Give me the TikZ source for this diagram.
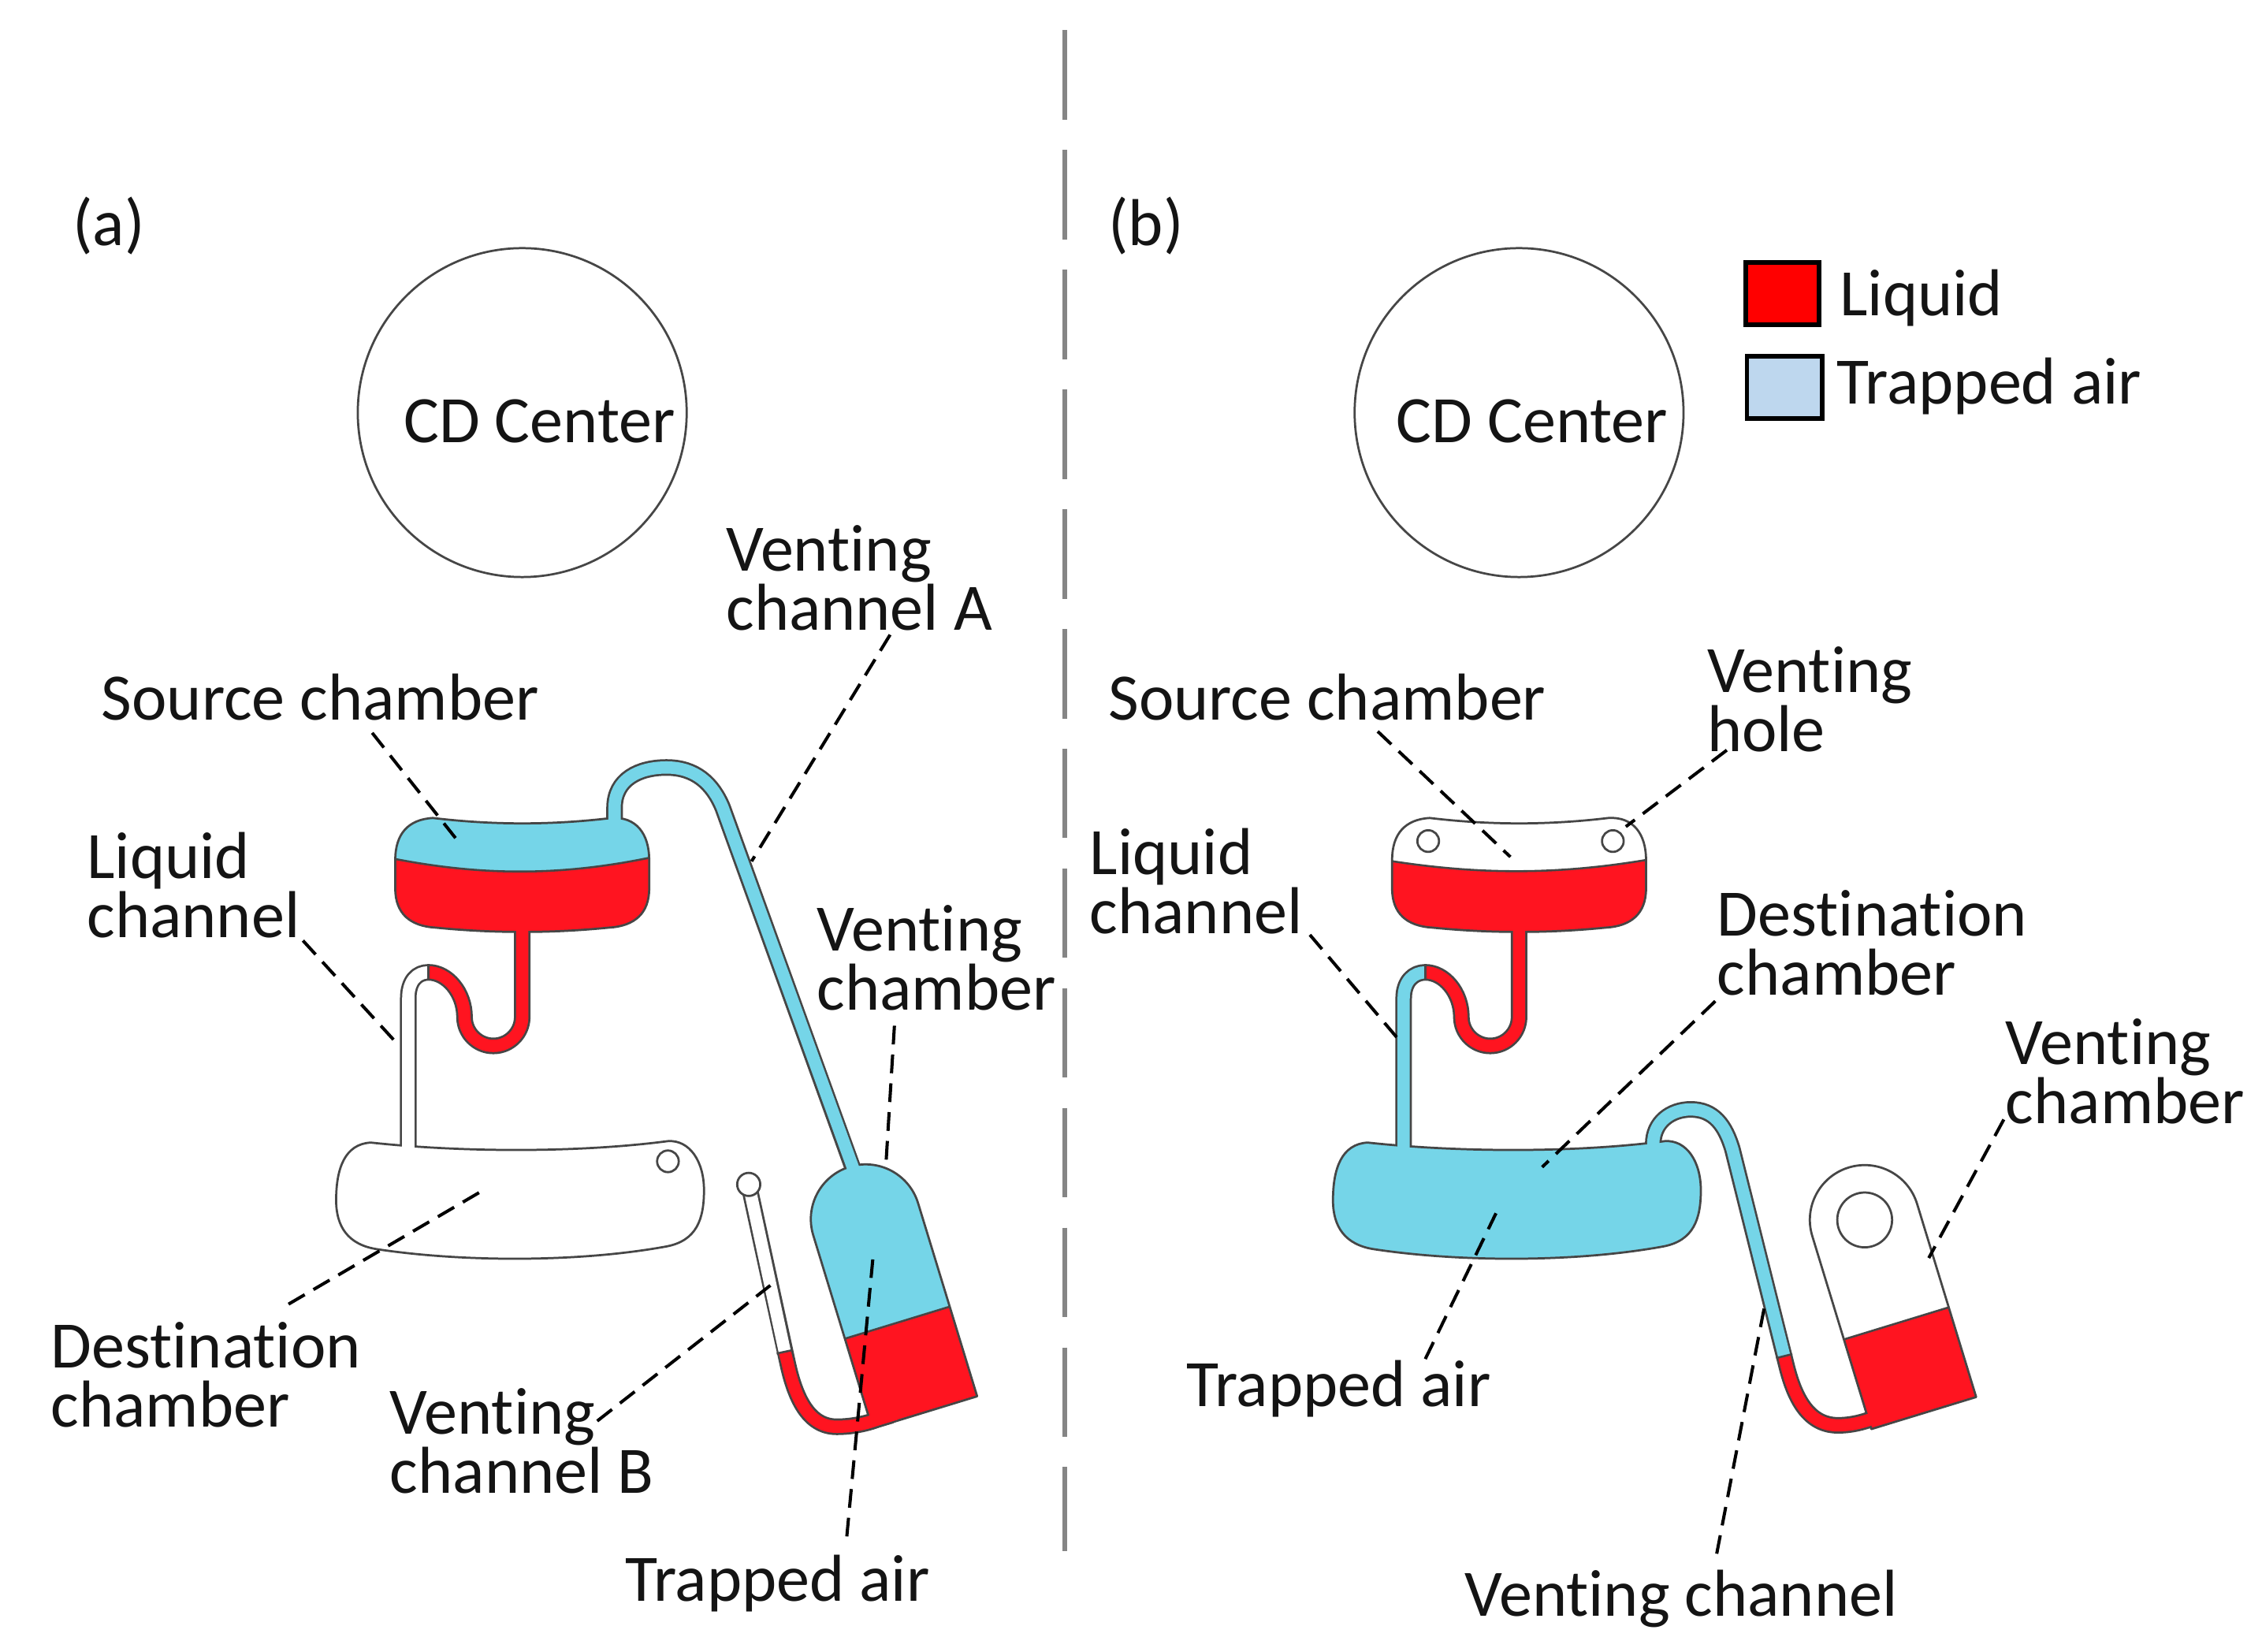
\documentclass[tikz,border=0pt]{standalone}
\usepackage{fontspec}
\setmainfont{Carlito}[Ligatures={NoCommon,NoRare}]
\definecolor{liq}{RGB}{255,20,32}
\definecolor{air}{RGB}{117,213,232}
\definecolor{outl}{RGB}{70,70,70}
\definecolor{legred}{RGB}{255,0,0}
\definecolor{legblue}{RGB}{190,215,238}
\definecolor{divgray}{RGB}{133,133,133}
\newcommand\lblfont{\fontsize{23}{20.5}\selectfont\setlength{\lineskiplimit}{-30pt}\relax}
\begin{document}
\begin{tikzpicture}[x=0.5pt,y=-0.5pt,
  lbl/.style={inner sep=0pt, anchor=base west, align=left, font=\lblfont, text=black!92},
  leader/.style={line width=1.1pt, dash pattern=on 6.5pt off 3.5pt},
  chamb/.style={draw=outl, line width=0.75pt, line join=round},
  chout/.style={draw=outl, line width=5.75pt, line join=round, line cap=butt},
  chin/.style={draw=#1, line width=4.25pt, line join=round, line cap=butt},
  sep/.style={draw=outl, line width=0.7pt},
  hole/.style={draw=outl, line width=0.75pt, fill=white},
  legbox/.style={draw=black, line width=1.5pt},
]
\useasboundingbox[fill=white] (0,0) rectangle (1568,1145);

% divider
\draw[divgray, line width=1.5pt, dash pattern=on 31pt off 10.5pt] (738,21) -- (738,1075);

% panel labels
\node[lbl] (pa) at (50,170) {(a)};
\node[lbl] (pb) at (768,170) {(b)};

% CD centers
\node[circle, draw=outl, line width=0.75pt, minimum size=114pt, inner sep=0pt] (cda) at (362,286) {};
\node[lbl, anchor=base] (cdat) at (374,307) {CD Center};
\node[circle, draw=outl, line width=0.75pt, minimum size=114pt, inner sep=0pt] (cdb) at (1053,286) {};
\node[lbl, anchor=base] (cdbt) at (1062,307) {CD Center};

% legend
\draw[legbox, fill=legred] (1210,182) rectangle (1261,225);
\draw[legbox, fill=legblue] (1211,247) rectangle (1263,290);
\node[lbl] (legl) at (1275,219) {Liquid};
\node[lbl] (lega) at (1273,280) {Trapped air};

%================ PANEL (a) =================
% channel outlines
\draw[chout] (426,580) -- (426,560) .. controls (426,540) and (443,532) .. (462,532) .. controls (482,532) and (494,543) .. (501,560) -- (596,823);
\draw[chout] (519,821) -- (546,945) .. controls (551,968) and (560,989) .. (580,989) .. controls (590,989) and (600,987) .. (608,984) -- (618,981);
\begin{scope}[shift={(362,0)}]
\draw[chout] (0,632) -- (0,705) .. controls (0,716) and (-9,725) .. (-20,725) .. controls (-31,725) and (-40,716) .. (-40,705) .. controls (-40,688) and (-52,674) .. (-65,674) .. controls (-73,674) and (-79,680) .. (-79,692) -- (-79,806);
% source chamber
\begin{scope}
\clip (-62,567) .. controls (-20,572) and (20,572) .. (62,567) .. controls (79,566) and (88,578) .. (88,596) -- (88,616) .. controls (88,633) and (78,642) .. (60,643) .. controls (20,647) and (-20,647) .. (-60,643) .. controls (-78,642) and (-88,633) .. (-88,616) -- (-88,596) .. controls (-88,578) and (-79,568) .. (-62,567) -- cycle;
\fill[air] (-100,550) rectangle (100,660);
\fill[liq] (-100,593) .. controls (-30,608) and (30,608) .. (100,592) -- (100,660) -- (-100,660) -- cycle;
\draw[sep] (-100,593) .. controls (-30,608) and (30,608) .. (100,592);
\end{scope}
\draw[chamb] (-62,567) .. controls (-20,572) and (20,572) .. (62,567) .. controls (79,566) and (88,578) .. (88,596) -- (88,616) .. controls (88,633) and (78,642) .. (60,643) .. controls (20,647) and (-20,647) .. (-60,643) .. controls (-78,642) and (-88,633) .. (-88,616) -- (-88,596) .. controls (-88,578) and (-79,568) .. (-62,567) -- cycle;
% destination chamber
\draw[chamb, fill=white] (-105,792) .. controls (-40,799) and (40,799) .. (101,791) .. controls (116,790) and (126,805) .. (126,825) .. controls (126,845) and (121,860) .. (100,864) .. controls (40,875) and (-40,875) .. (-100,866) .. controls (-121,863) and (-129,850) .. (-129,832) .. controls (-129,810) and (-123,793) .. (-105,792) -- cycle;
\draw[hole] (101,805) circle[radius=7.5];
% liquid channel inner
\draw[chin=liq] (0,630) -- (0,705) .. controls (0,716) and (-9,725) .. (-20,725) .. controls (-31,725) and (-40,716) .. (-40,705) .. controls (-40,688) and (-52,674) .. (-65,674);
\draw[chin=white] (-65,674) .. controls (-73,674) and (-79,680) .. (-79,692) -- (-79,808);
\draw[sep] (-65,668.5) -- (-65,679.5);
\end{scope}
% venting chamber (a)
\begin{scope}[shift={(641,979)}, rotate=17]
\fill[air] (-38,0) -- (38,0) -- (38,-140) .. controls (38,-161) and (21,-178) .. (0,-178) .. controls (-21,-178) and (-38,-161) .. (-38,-140) -- cycle;
\fill[liq] (-38,0) rectangle (38,-65);
\draw[sep] (-38,-65) -- (38,-65);
\draw[chamb] (-38,0) -- (38,0) -- (38,-140) .. controls (38,-161) and (21,-178) .. (0,-178) .. controls (-21,-178) and (-38,-161) .. (-38,-140) -- cycle;
\end{scope}
% channel inner fills
\draw[chin=air] (426,586) -- (426,560) .. controls (426,540) and (443,532) .. (462,532) .. controls (482,532) and (494,543) .. (501,560) -- (598,828);
\draw[chin=white] (519,821) -- (544,937);
\draw[chin=liq] (544,937) -- (546,945) .. controls (551,968) and (560,989) .. (580,989) .. controls (590,989) and (600,987) .. (608,984) -- (621,980);
\draw[sep] (538.4,938.2) -- (549.6,935.8);
\draw[hole] (519,821) circle[radius=8];

%================ PANEL (b) =================
\begin{scope}[shift={(1053,0)}]
\draw[chout] (0,632) -- (0,705) .. controls (0,716) and (-9,725) .. (-20,725) .. controls (-31,725) and (-40,716) .. (-40,705) .. controls (-40,688) and (-52,674) .. (-65,674) .. controls (-73,674) and (-80,680) .. (-80,692) -- (-80,806);
\draw[chout] (93,808) -- (93,793) .. controls (93,778) and (105,769) .. (119,769) .. controls (135,769) and (143,780) .. (148,797) -- (185,945) .. controls (190,966) and (199,988) .. (221,988) .. controls (230,988) and (238,986) .. (246,983) -- (256,980);
% source chamber
\begin{scope}
\clip (-62,567) .. controls (-20,572) and (20,572) .. (62,567) .. controls (79,566) and (88,578) .. (88,596) -- (88,616) .. controls (88,633) and (78,642) .. (60,643) .. controls (20,647) and (-20,647) .. (-60,643) .. controls (-78,642) and (-88,633) .. (-88,616) -- (-88,596) .. controls (-88,578) and (-79,568) .. (-62,567) -- cycle;
\fill[white] (-100,550) rectangle (100,660);
\fill[liq] (-100,595) .. controls (-30,607) and (30,607) .. (100,594) -- (100,660) -- (-100,660) -- cycle;
\draw[sep] (-100,595) .. controls (-30,607) and (30,607) .. (100,594);
\end{scope}
\draw[chamb] (-62,567) .. controls (-20,572) and (20,572) .. (62,567) .. controls (79,566) and (88,578) .. (88,596) -- (88,616) .. controls (88,633) and (78,642) .. (60,643) .. controls (20,647) and (-20,647) .. (-60,643) .. controls (-78,642) and (-88,633) .. (-88,616) -- (-88,596) .. controls (-88,578) and (-79,568) .. (-62,567) -- cycle;
\draw[hole] (-63,583) circle[radius=7.5];
\draw[hole] (65,583) circle[radius=7.5];
% destination chamber
\draw[chamb, fill=air] (-105,792) .. controls (-40,799) and (40,799) .. (101,791) .. controls (116,790) and (126,805) .. (126,825) .. controls (126,845) and (121,860) .. (100,864) .. controls (40,875) and (-40,875) .. (-100,866) .. controls (-121,863) and (-129,850) .. (-129,832) .. controls (-129,810) and (-123,793) .. (-105,792) -- cycle;
\end{scope}
% venting chamber (b)
\begin{scope}[shift={(1333.5,979.5)}, rotate=17]
\fill[white] (-38,0) -- (38,0) -- (38,-140) .. controls (38,-161) and (21,-178) .. (0,-178) .. controls (-21,-178) and (-38,-161) .. (-38,-140) -- cycle;
\fill[liq] (-38,0) rectangle (38,-65);
\draw[sep] (-38,-65) -- (38,-65);
\draw[chamb] (-38,0) -- (38,0) -- (38,-140) .. controls (38,-161) and (21,-178) .. (0,-178) .. controls (-21,-178) and (-38,-161) .. (-38,-140) -- cycle;
\draw[hole] (0,-140) circle[radius=19];
\end{scope}
\begin{scope}[shift={(1053,0)}]
\draw[chin=liq] (0,630) -- (0,705) .. controls (0,716) and (-9,725) .. (-20,725) .. controls (-31,725) and (-40,716) .. (-40,705) .. controls (-40,688) and (-52,674) .. (-65,674);
\draw[chin=air] (-65,674) .. controls (-73,674) and (-80,680) .. (-80,692) -- (-80,810);
\draw[sep] (-65,668.5) -- (-65,679.5);
\draw[chin=air] (93,812) -- (93,793) .. controls (93,778) and (105,769) .. (119,769) .. controls (135,769) and (143,780) .. (148,797) -- (183.8,940);
\draw[chin=liq] (183.8,940) -- (185,945) .. controls (190,966) and (199,988) .. (221,988) .. controls (230,988) and (238,986) .. (246,983) -- (259,979);
\draw[sep] (178.2,941.4) -- (189.4,938.6);
\end{scope}

%================ LABELS (a) =================
% (base anchor of a two-line label = baseline of its second line)
\node[lbl] (srca) at (70,499) {Source chamber};
\node[lbl] (vcA) at (503,437) {Venting\\channel A};
\node[lbl] (lqa) at (60,650) {Liquid\\channel};
\node[lbl] (vcha) at (566,700) {Venting\\chamber};
\node[lbl] (dsta) at (35,989) {Destination\\chamber};
\node[lbl] (vcB) at (270,1035) {Venting\\channel B};
\node[lbl] (tra) at (433,1110) {Trapped air};

%================ LABELS (b) =================
\node[lbl] (srcb) at (768,499) {Source chamber};
\node[lbl] (vh) at (1183,521) {Venting\\hole};
\node[lbl] (lqb) at (755,647) {Liquid\\channel};
\node[lbl] (dstb) at (1190,690) {Destination\\chamber};
\node[lbl] (vchb) at (1390,779) {Venting\\chamber};
\node[lbl] (trb) at (822,975) {Trapped air};
\node[lbl] (vcb) at (1015,1120) {Venting channel};

%================ LEADERS =================
\coordinate (s1) at (258,508);   \coordinate (e1) at (319,585);
\coordinate (s2) at (617,440);   \coordinate (e2) at (521,597);
\coordinate (s3) at (210,652);   \coordinate (e3) at (274,722);
\coordinate (s4) at (620,711);   \coordinate (e4) at (614,809);
\coordinate (s5) at (200,904);   \coordinate (e5) at (335,825);
\coordinate (s6) at (414,985);   \coordinate (e6) at (534,891);
\coordinate (s7) at (587,1065);  \coordinate (e7) at (605,873);
\coordinate (s8) at (955,507);   \coordinate (e8) at (1047,594);
\coordinate (s9) at (1197,520);  \coordinate (e9) at (1127,573);
\coordinate (s10) at (908,648);  \coordinate (e10) at (969,720);
\coordinate (s11) at (1189,694); \coordinate (e11) at (1069,809);
\coordinate (s12) at (1389,776); \coordinate (e12) at (1337,872);
\coordinate (s13) at (988,942);  \coordinate (e13) at (1037,841);
\coordinate (s14) at (1190,1077);\coordinate (e14) at (1224,901);
\foreach \i in {1,...,14} {\draw[leader] (s\i) -- (e\i);}
\end{tikzpicture}
\end{document}
